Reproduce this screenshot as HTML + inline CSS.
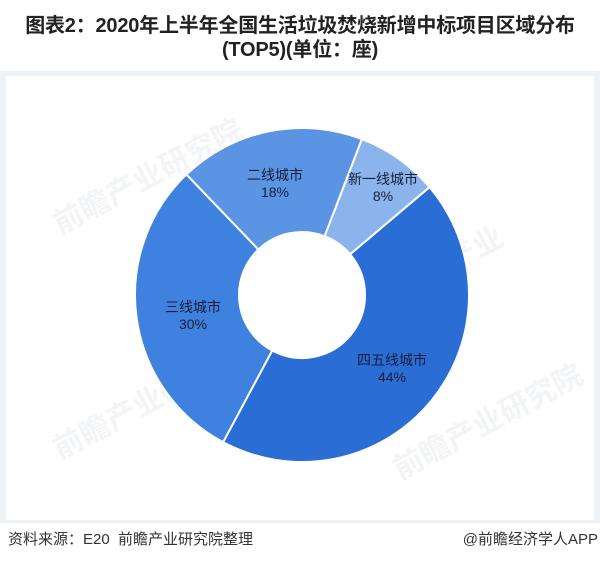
<!DOCTYPE html>
<html>
<head>
<meta charset="utf-8">
<style>
  html,body{margin:0;padding:0;}
  body{width:600px;height:571px;background:#ffffff;position:relative;overflow:hidden;
       font-family:"Liberation Sans","Noto Sans CJK SC",sans-serif;}
  .title{position:absolute;left:0;top:14px;width:600px;text-align:center;
         font-size:20px;font-weight:bold;line-height:24px;color:#222;letter-spacing:-0.2px;}
  .band{position:absolute;left:0;top:71px;width:600px;height:452px;background:#eef1f6;}
  .panel{position:absolute;left:6px;top:76px;width:588px;height:444px;background:#ffffff;}
  .foot{position:absolute;top:531px;font-size:15px;color:#333;line-height:18px;}
  svg{position:absolute;left:0;top:0;}
</style>
</head>
<body>
<div class="title">图表2：2020年上半年全国生活垃圾焚烧新增中标项目区域分布<br>(TOP5)(单位：座)</div>
<div class="band"></div>
<div class="panel"></div>
<svg width="600" height="571" viewBox="0 0 600 571" xmlns="http://www.w3.org/2000/svg">
  <g font-family="Liberation Sans, Noto Sans CJK SC, sans-serif" font-weight="bold" fill="#f3f4f7" font-size="30">
    <text x="60" y="235" transform="rotate(-28 60 235)">前瞻产业研究院</text>
    <text x="400" y="300" transform="rotate(-28 400 300)">前瞻产业</text>
    <text x="60" y="460" transform="rotate(-28 60 460)">前瞻产业研究院</text>
    <text x="400" y="480" transform="rotate(-28 400 480)">前瞻产业研究院</text>
  </g>
  <g stroke="#ffffff" stroke-width="2" stroke-linejoin="round">
    <path d="M361.85,139.09 A167,167 0 0 1 429.55,187.20 L350.12,254.33 A63,63 0 0 0 324.58,236.18 Z" fill="#8bb3ec"/>
    <path d="M429.55,187.20 A167,167 0 0 1 223.08,442.18 L272.23,350.52 A63,63 0 0 0 350.12,254.33 Z" fill="#2a6dd4"/>
    <path d="M223.08,442.18 A167,167 0 0 1 186.42,174.46 L258.40,249.53 A63,63 0 0 0 272.23,350.52 Z" fill="#3f81de"/>
    <path d="M186.42,174.46 A167,167 0 0 1 361.85,139.09 L324.58,236.18 A63,63 0 0 0 258.40,249.53 Z" fill="#5b94e3"/>
  </g>
  <g font-family="Liberation Sans, Noto Sans CJK SC, sans-serif" font-size="14" fill="#16203a" text-anchor="middle">
    <text x="275" y="180">二线城市</text>
    <text x="275" y="197">18%</text>
    <text x="383" y="184">新一线城市</text>
    <text x="383" y="201">8%</text>
    <text x="193" y="312">三线城市</text>
    <text x="193" y="329">30%</text>
    <text x="392" y="365">四五线城市</text>
    <text x="392" y="382">44%</text>
  </g>
</svg>
<div class="foot" style="left:8px;">资料来源：E20&nbsp; 前瞻产业研究院整理</div>
<div class="foot" style="right:2px;">@前瞻经济学人APP</div>
</body>
</html>
